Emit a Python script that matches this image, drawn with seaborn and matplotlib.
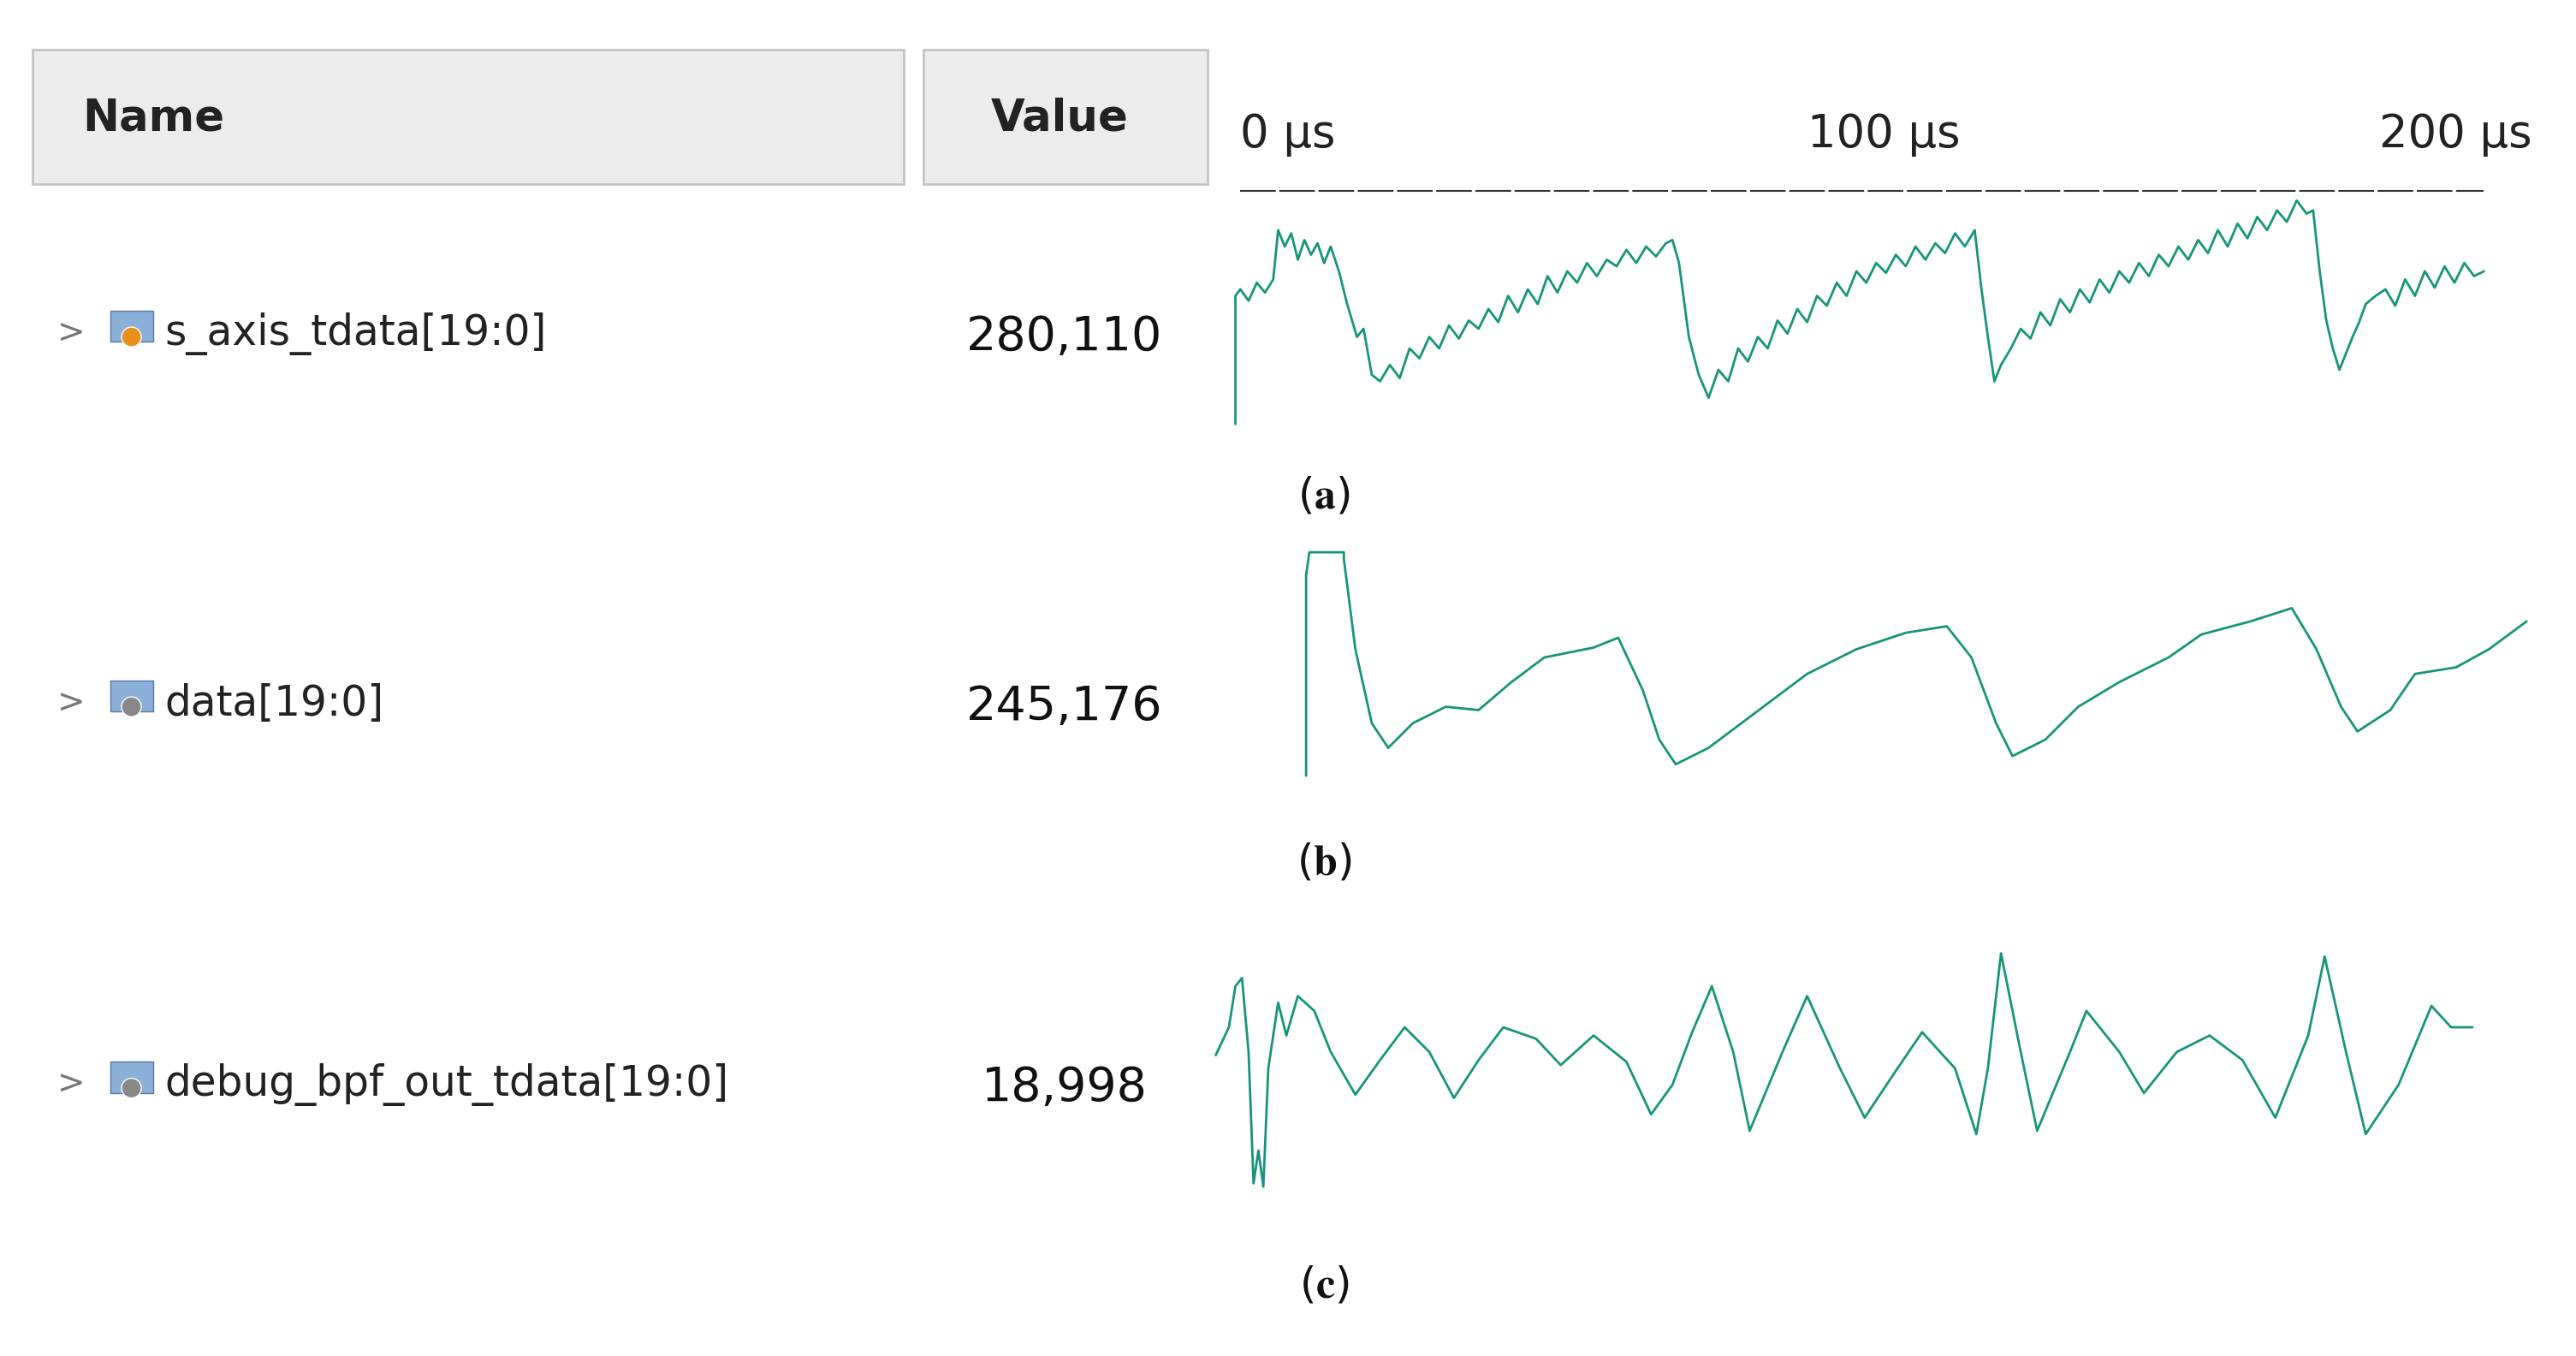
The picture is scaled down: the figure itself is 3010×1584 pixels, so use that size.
import matplotlib
matplotlib.use("Agg")
import matplotlib.pyplot as plt
import matplotlib.patches as mpatches
import seaborn as sns
import pandas as pd

sns.set_theme(style="white")
plt.rcParams['font.family'] = ['DejaVu Sans']
plt.rcParams['mathtext.fontset'] = 'stix'

# signal table
names = ["s_axis_tdata[19:0]", "data[19:0]", "debug_bpf_out_tdata[19:0]"]
values = ["280,110", "245,176", "18,998"]
row_y = [203, 428, 660]
panel_labels = ["a", "b", "c"]
panel_y = [302, 525, 782]
ruler_labels = ["0 µs", "100 µs", "200 µs"]
ruler_x = [755, 1100, 1448]

# waveforms (screen x, screen y)
a_x = [752, 752, 755, 760, 765, 770, 775, 778, 782, 786, 790, 794, 798, 802, 806, 810, 815, 820, 826, 830,
       835, 840, 846, 852, 858, 864, 870, 876, 882, 888, 894, 900, 906, 912, 918, 924, 930, 936, 942, 948,
       954, 960, 966, 972, 978, 984, 990, 996, 1002, 1008, 1014, 1018, 1022, 1028, 1034, 1040, 1046, 1052,
       1058, 1064, 1070, 1076, 1082, 1088, 1094, 1100, 1106, 1112, 1118, 1124, 1130, 1136, 1142, 1148, 1154,
       1160, 1166, 1172, 1178, 1184, 1190, 1196, 1202, 1206, 1210, 1214, 1218, 1224, 1230, 1236, 1242, 1248,
       1254, 1260, 1266, 1272, 1278, 1284, 1290, 1296, 1302, 1308, 1314, 1320, 1326, 1332, 1338, 1344, 1350,
       1356, 1362, 1368, 1374, 1380, 1386, 1392, 1398, 1404, 1408, 1412, 1416, 1420, 1424, 1428, 1432, 1436,
       1440, 1446, 1452, 1458, 1464, 1470, 1476, 1482, 1488, 1494, 1500, 1506, 1512]
a_y = [258, 180, 176, 183, 172, 178, 170, 140, 150, 142, 158, 146, 155, 148, 160, 150, 165, 185, 205, 200,
       228, 232, 222, 230, 212, 218, 205, 212, 198, 206, 195, 200, 188, 196, 180, 190, 176, 185, 168, 178,
       165, 172, 160, 168, 158, 162, 152, 160, 150, 156, 148, 146, 160, 205, 228, 242, 225, 232, 212, 220,
       205, 212, 195, 203, 188, 196, 180, 186, 172, 180, 165, 172, 160, 166, 155, 162, 150, 158, 148, 154,
       142, 150, 140, 175, 205, 232, 222, 212, 200, 206, 190, 198, 182, 190, 176, 184, 170, 178, 165, 172,
       160, 168, 155, 162, 150, 158, 146, 154, 140, 150, 136, 145, 132, 140, 128, 135, 122, 130, 128, 165,
       195, 212, 225, 215, 205, 196, 185, 180, 176, 186, 170, 180, 165, 175, 162, 172, 160, 168, 165]
b_x = [795, 795, 797, 800, 818, 818, 825, 835, 845, 860, 880, 900, 920, 940, 970, 985, 1000, 1010, 1020, 1040,
       1060, 1080, 1100, 1130, 1160, 1185, 1200, 1215, 1225, 1245, 1265, 1290, 1320, 1340, 1370, 1395, 1410,
       1425, 1435, 1455, 1470, 1495, 1515, 1538]
b_y = [472, 350, 336, 336, 336, 340, 395, 440, 455, 440, 430, 432, 415, 400, 394, 388, 420, 450, 465, 455,
       440, 425, 410, 395, 385, 381, 400, 440, 460, 450, 430, 415, 400, 386, 378, 370, 395, 430, 445, 432,
       410, 406, 395, 378]
c_x = [740, 748, 752, 756, 760, 763, 766, 769, 772, 778, 783, 790, 800, 810, 825, 840, 855, 870, 885, 900,
       915, 935, 950, 970, 990, 1005, 1018, 1030, 1042, 1055, 1065, 1085, 1100, 1120, 1135, 1155, 1170, 1190,
       1203, 1210, 1218, 1230, 1240, 1260, 1270, 1290, 1305, 1325, 1345, 1365, 1385, 1405, 1415, 1428, 1440,
       1460, 1480, 1492, 1505]
c_y = [642, 625, 600, 595, 640, 720, 700, 722, 650, 610, 630, 606, 615, 640, 666, 645, 625, 640, 668, 645,
       625, 632, 648, 630, 646, 678, 660, 628, 600, 640, 688, 640, 606, 650, 680, 650, 628, 650, 690, 650,
       580, 640, 688, 640, 615, 640, 665, 640, 630, 645, 680, 630, 582, 640, 690, 660, 612, 625, 625]

wave_color = "#16957a"
fig = plt.figure(figsize=(30.1, 15.84), dpi=100)
ax = fig.add_axes([0, 0, 1, 1])

for xs, ys in [(a_x, a_y), (b_x, b_y), (c_x, c_y)]:
    df = pd.DataFrame({"x": xs, "y": ys})
    sns.lineplot(data=df, x="x", y="y", sort=False, estimator=None,
                 color=wave_color, linewidth=2.0, ax=ax)
ax.set_xlim(0, 1568)
ax.set_ylim(825, 0)
ax.axis("off")

# header boxes
ax.add_patch(mpatches.Rectangle((20, 30), 530, 82, facecolor="#ececec", edgecolor="#c4c4c4", lw=2))
ax.text(50, 72, "Name", fontsize=37, fontweight="bold", va="center", ha="left", color="#222222")
ax.add_patch(mpatches.Rectangle((562, 30), 173, 82, facecolor="#ececec", edgecolor="#c4c4c4", lw=2))
ax.text(645, 72, "Value", fontsize=37, fontweight="bold", va="center", ha="center", color="#222222")

# time ruler
for lx, lab in zip(ruler_x, ruler_labels):
    ax.text(lx, 82, lab, fontsize=38, va="center", ha="left", color="#222222")
ax.plot([755, 1512], [116, 116], color="#333333", lw=1.5, dashes=[20, 2])

# signal rows
icon_colors = ["#e8901a", "#888888", "#888888"]
for y, n, v, ic in zip(row_y, names, values, icon_colors):
    ax.text(35, y, ">", fontsize=28, va="center", color="#777777")
    ax.add_patch(mpatches.Rectangle((67, y - 14), 26, 19,
                                    facecolor="#8ab0d8", edgecolor="#5577aa", lw=1))
    ax.add_patch(mpatches.Circle((80, y + 2), 6, facecolor=ic, edgecolor="white", lw=1))
    ax.text(100, y, n, fontsize=35, va="center", color="#222222")
    ax.text(648, y + 2, v, fontsize=40, va="center", ha="center", color="#111111")

for lab, y in zip(panel_labels, panel_y):
    ax.text(806, y, r"($\mathbf{%s}$)" % lab, fontsize=36, va="center", ha="center", color="#111111")

fig.savefig("out.png", dpi=100)
